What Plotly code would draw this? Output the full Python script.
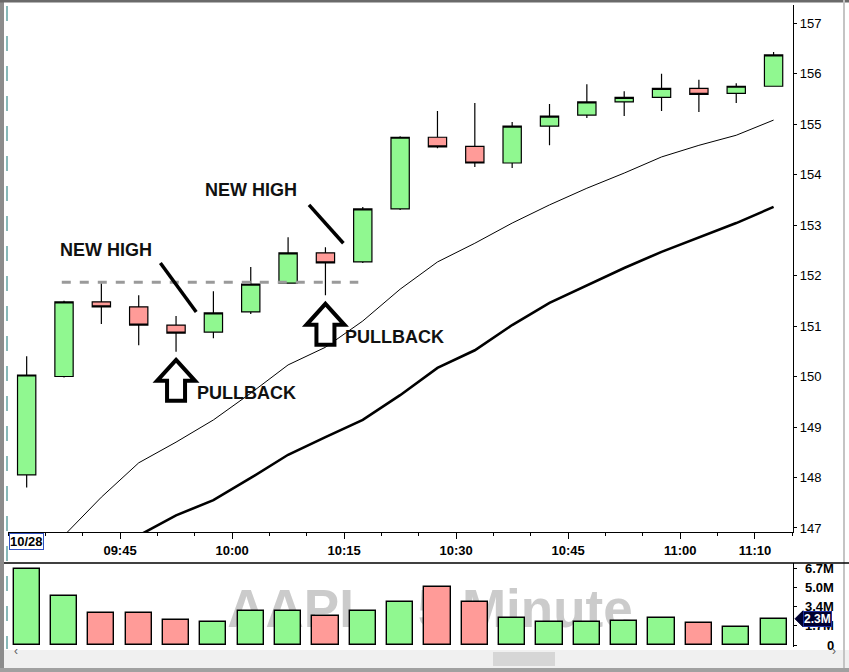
import plotly.graph_objects as go

# 5 minute bars, 10/28
times = ["09:30", "09:35", "09:40", "09:45", "09:50", "09:55", "10:00", "10:05", "10:10", "10:15", "10:20",
         "10:25", "10:30", "10:35", "10:40", "10:45", "10:50", "10:55", "11:00", "11:05", "11:10"]
opens = [148.05, 150.00, 151.48, 151.38, 151.02, 150.88, 151.28, 151.85, 152.45, 152.27, 153.32,
         154.74, 154.56, 154.23, 154.96, 155.18, 155.44, 155.53, 155.71, 155.61, 155.75]
highs = [150.40, 151.50, 151.85, 151.61, 151.20, 151.69, 152.17, 152.76, 152.56, 153.36, 154.76,
         155.26, 155.42, 155.04, 155.40, 155.79, 155.65, 156.00, 155.88, 155.81, 156.43]
lows = [147.80, 149.98, 151.04, 150.62, 150.49, 150.76, 151.24, 151.85, 151.61, 152.25, 153.30,
        154.52, 154.15, 154.13, 154.58, 155.12, 155.16, 155.26, 155.24, 155.42, 155.75]
closes = [150.03, 151.48, 151.38, 151.02, 150.86, 151.26, 151.83, 152.45, 152.25, 153.32, 154.74,
          154.55, 154.23, 154.96, 155.16, 155.44, 155.53, 155.71, 155.59, 155.75, 156.37]
volumes = [6.7e6, 4.3e6, 2.8e6, 2.8e6, 2.2e6, 2.0e6, 3.0e6, 3.0e6, 2.5e6, 3.0e6, 3.8e6,
           5.1e6, 3.8e6, 2.4e6, 2.0e6, 2.0e6, 2.1e6, 2.4e6, 1.9e6, 1.6e6, 2.3e6]
ma_fast = [146.20, 146.85, 147.61, 148.29, 148.70, 149.14, 149.67, 150.23, 150.58, 151.10, 151.73,
           152.27, 152.64, 153.04, 153.40, 153.73, 154.03, 154.35, 154.58, 154.78, 155.08]
ma_slow = [145.90, 146.20, 146.55, 146.85, 147.25, 147.55, 147.99, 148.45, 148.80, 149.14, 149.63,
           150.17, 150.52, 151.02, 151.46, 151.81, 152.15, 152.47, 152.76, 153.04, 153.36]

price_ticks = [147, 148, 149, 150, 151, 152, 153, 154, 155, 156, 157]
time_tick_vals = [15, 30, 45, 60, 75, 90, 100]
time_tick_text = ["09:45", "10:00", "10:15", "10:30", "10:45", "11:00", "11:10"]
vol_tick_vals = [0, 1.7e6, 3.4e6, 5.0e6, 6.7e6]
vol_tick_text = ["0", "1.7M", "3.4M", "5.0M", "6.7M"]
last_vol_label = "2.3M"

GREEN = "#90F890"
RED = "#FF9B98"
FONT = "Arial, Liberation Sans, sans-serif"

W, H = 849, 672
L, R, T, B = 8, 56, 5, 25


def minutes(t):
    h, m = t.split(":")
    return (int(h) - 9) * 60 + int(m) - 30


# bars are drawn in the middle of their 5 minute slot
xs = [minutes(t) + 2.5 for t in times]
colors = [GREEN if c >= o else RED for o, c in zip(opens, closes)]


def px(x):
    return (x - L) / (W - L - R)


def py(y):
    return (H - B - y) / (H - T - B)


fig = go.Figure()

fig.add_trace(go.Scatter(x=xs, y=ma_fast, mode="lines", line=dict(color="black", width=1),
                         hoverinfo="skip", showlegend=False))
fig.add_trace(go.Scatter(x=xs, y=ma_slow, mode="lines", line=dict(color="black", width=2.6),
                         hoverinfo="skip", showlegend=False))
fig.add_trace(go.Candlestick(
    x=xs, open=opens, high=highs, low=lows, close=closes,
    increasing=dict(fillcolor=GREEN, line=dict(color="black", width=1.2)),
    decreasing=dict(fillcolor=RED, line=dict(color="black", width=1.2)),
    whiskerwidth=0, showlegend=False))

fig.add_trace(go.Bar(x=xs, y=volumes, width=3.5, marker=dict(color=colors, line=dict(color="black", width=1.4)),
                     xaxis="x2", yaxis="y2", showlegend=False))

x_range = [0, 105.1]
fig.update_layout(
    width=W, height=H, autosize=False,
    margin=dict(l=L, r=R, t=T, b=B),
    paper_bgcolor="white", plot_bgcolor="rgba(0,0,0,0)",
    font=dict(family=FONT, color="black", size=13),
    bargap=0,
    xaxis=dict(domain=[0, 1], range=x_range, rangeslider=dict(visible=False), anchor="y",
               showgrid=False, zeroline=False, showline=True, linecolor="black", linewidth=1.2,
               tickmode="array", tickvals=time_tick_vals, ticktext=["<b>%s</b>" % t for t in time_tick_text],
               ticks="outside", ticklen=6, tickcolor="black",
               minor=dict(dtick=5, tick0=0, ticks="outside", ticklen=3, tickcolor="black"),
               tickfont=dict(size=13, family=FONT)),
    yaxis=dict(domain=[py(532), 1], range=[146.92, 157.36], side="right", anchor="x",
               showgrid=False, zeroline=False, showline=True, linecolor="black", linewidth=1.2,
               tickvals=price_ticks, ticks="outside", ticklen=3, tickcolor="black",
               tickfont=dict(size=13, family=FONT)),
    xaxis2=dict(domain=[0, 1], range=x_range, anchor="y2", showgrid=False, zeroline=False,
                showline=False, showticklabels=False, ticks=""),
    yaxis2=dict(domain=[0, py(563)], range=[-0.175e6, 7.19e6], side="right", anchor="x2",
                showgrid=False, zeroline=False, showline=True, linecolor="black", linewidth=1,
                tickvals=vol_tick_vals, ticks="outside", ticklen=3, tickcolor="black",
                showticklabels=False),
)

shapes = []
# window frame and scrollbar
shapes.append(dict(type="rect", xref="paper", yref="paper", x0=px(0), x1=px(W), y0=py(650), y1=py(668),
                   line=dict(width=0), fillcolor="#f0f0f0", layer="below"))
shapes.append(dict(type="rect", xref="paper", yref="paper", x0=px(493), x1=px(555), y0=py(652), y1=py(666),
                   line=dict(width=0), fillcolor="#d6d6d6", layer="below"))
shapes.append(dict(type="line", xref="paper", yref="paper", x0=px(2), x1=px(2), y0=py(0), y1=py(H),
                   line=dict(color="#8c8c8c", width=4)))
shapes.append(dict(type="line", xref="paper", yref="paper", x0=px(0), x1=px(W), y0=py(1), y1=py(1),
                   line=dict(color="#6a6a6a", width=3)))
shapes.append(dict(type="line", xref="paper", yref="paper", x0=px(844), x1=px(844), y0=py(0), y1=py(H),
                   line=dict(color="#c4c4c4", width=2)))
shapes.append(dict(type="line", xref="paper", yref="paper", x0=px(0), x1=px(W), y0=py(670), y1=py(670),
                   line=dict(color="#a0a0a0", width=4)))
# pane separator and left dashed marker
shapes.append(dict(type="line", xref="paper", yref="paper", x0=px(4), x1=px(W), y0=py(563), y1=py(563),
                   line=dict(color="black", width=1.5)))
shapes.append(dict(type="line", xref="paper", yref="paper", x0=px(7), x1=px(7), y0=py(6), y1=py(649),
                   line=dict(color="#3a8a8a", width=1.2, dash="longdash")))
# watermark behind the volume bars
shapes.append(dict(type="rect", xref="paper", yref="paper", x0=px(180), x1=px(680), y0=py(640), y1=py(566),
                   line=dict(width=0), fillcolor="rgba(0,0,0,0)", layer="below",
                   label=dict(text="AAPL - 5 Minute", textposition="middle center",
                              font=dict(family=FONT, size=53, color="#cbcbcb", weight="bold"))))
# resistance level and trend strokes
shapes.append(dict(type="line", xref="x", yref="y", x0=7.2, x1=46.9, y0=151.87, y1=151.87,
                   line=dict(color="#9a9a9a", width=3, dash="dash")))
shapes.append(dict(type="line", xref="x", yref="y", x0=20.4, x1=25.2, y0=152.25, y1=151.28,
                   line=dict(color="black", width=3.5)))
shapes.append(dict(type="line", xref="x", yref="y", x0=40.3, x1=44.9, y0=153.40, y1=152.64,
                   line=dict(color="black", width=3.5)))
# hollow up arrows under the pullback candles
arrow_path = "M 0,0 L 19,-21 L 9,-21 L 9,-41 L -9,-41 L -9,-21 L -19,-21 Z"
for ax_, ay_ in [(22.5, 150.33), (42.5, 151.44)]:
    shapes.append(dict(type="path", xref="x", yref="y", xsizemode="pixel", ysizemode="pixel",
                       xanchor=ax_, yanchor=ay_, path=arrow_path,
                       line=dict(color="black", width=4), fillcolor="white"))
# pointer for last volume
shapes.append(dict(type="path", xref="paper", yref="y2", xsizemode="pixel", ysizemode="pixel",
                   xanchor=px(795), yanchor=volumes[-1], path="M 0,0 L 8,-8 L 8,8 Z",
                   line=dict(color="#000030", width=1), fillcolor="#000030"))
fig.update_layout(shapes=shapes)

anns = []
for txt, x, y in [("NEW HIGH", 13.1, 152.5), ("NEW HIGH", 32.5, 153.69),
                  ("PULLBACK", 31.9, 149.67), ("PULLBACK", 51.8, 150.78)]:
    anns.append(dict(text="<b>%s</b>" % txt, x=x, y=y, xref="x", yref="y", showarrow=False,
                     font=dict(family=FONT, size=18, color="#111111")))
anns.append(dict(text="<b>10/28</b>", x=px(9), y=py(550), xref="paper", yref="paper", xanchor="left",
                 showarrow=False, font=dict(size=13, family=FONT), bordercolor="#3050c0", borderwidth=1,
                 borderpad=0))
for v, t in zip(vol_tick_vals, vol_tick_text):
    anns.append(dict(text="<b>%s</b>" % t, x=px(836), y=v, xref="paper", yref="y2", xanchor="right",
                     showarrow=False, font=dict(size=13, family=FONT)))
anns.append(dict(text="<b>%s</b>" % last_vol_label, x=px(803), y=volumes[-1], xref="paper", yref="y2",
                 xanchor="left", showarrow=False, font=dict(size=12, family=FONT, color="white"),
                 bgcolor="#000030", bordercolor="#2030a0", borderwidth=1, borderpad=0))
anns.append(dict(text="‹", x=px(12), y=py(660), xref="paper", yref="paper", showarrow=False,
                 font=dict(size=12, color="#606060")))
anns.append(dict(text="›", x=px(838), y=py(660), xref="paper", yref="paper", showarrow=False,
                 font=dict(size=12, color="#606060")))
fig.update_layout(annotations=anns)

# the page's default body margin would push the figure off its 849x672 frame
fig.write_html("out.html", config={"displayModeBar": False},
               post_script="document.body.style.margin='0';")
